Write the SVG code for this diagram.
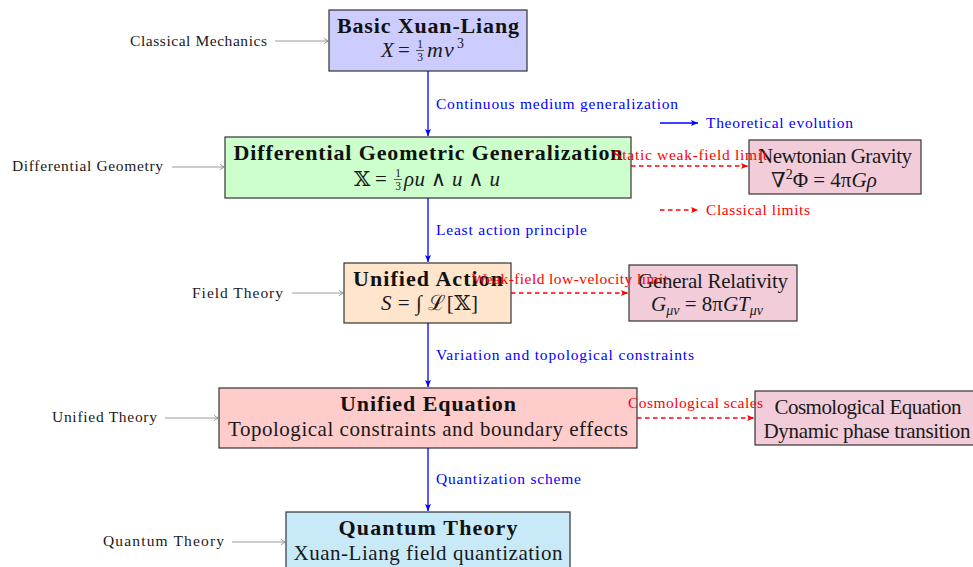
<svg xmlns="http://www.w3.org/2000/svg" width="973" height="567" viewBox="0 0 973 567">
<defs>
<style>
text{font-family:"Liberation Serif","DejaVu Serif",serif;fill:#1a1a1a}
.t{font-size:22px;font-weight:bold;text-anchor:middle;fill:#111}
.s{font-size:21px;text-anchor:middle}
.m{font-size:21px}
.i{font-style:italic}
.sm{font-size:15.5px}
.blue{fill:#0000ff}
.red{fill:#ff0000}
.box{stroke:#333;stroke-width:1.2}
.ev{stroke:#0000ff;stroke-width:1.3;fill:none}
.cl{stroke:#ff0000;stroke-width:1.3;stroke-dasharray:4.5 3.5;fill:none}
.gr{stroke:#808080;stroke-width:0.8;fill:none}
.fr{stroke:#1a1a1a;stroke-width:0.7}
</style>
<marker id="ab" markerWidth="9" markerHeight="8" refX="8" refY="4" orient="auto" markerUnits="userSpaceOnUse"><path d="M1,1 L8,4 L1,7 L2.5,4 Z" fill="#0000ff"/></marker>
<marker id="ar" markerWidth="9" markerHeight="8" refX="8" refY="4" orient="auto" markerUnits="userSpaceOnUse"><path d="M1,1 L8,4 L1,7 L2.5,4 Z" fill="#ff0000"/></marker>
<marker id="ag" markerWidth="8" markerHeight="8" refX="7" refY="4" orient="auto" markerUnits="userSpaceOnUse"><path d="M2,1.3 Q4.5,3.4 7,4 Q4.5,4.6 2,6.7" fill="none" stroke="#808080" stroke-width="0.8"/></marker>
</defs>

<g id="node-basic">
<rect class="box" x="329" y="10" width="198" height="61" fill="#ccccff"/>
<text class="t" x="428" y="33" textLength="182">Basic Xuan-Liang</text>
<text class="m i" x="381" y="57">X</text>
<text class="m" x="398" y="57">=</text>
<text x="420" y="47.5" font-size="11.5" text-anchor="middle">1</text>
<line class="fr" x1="416" y1="50.5" x2="424" y2="50.5"/>
<text x="420" y="61" font-size="11.5" text-anchor="middle">3</text>
<text class="i" x="427" y="57" font-size="22" letter-spacing="1">mv</text>
<text x="457" y="48" font-size="14">3</text>
</g>

<g id="node-diffgeo">
<rect class="box" x="225" y="137" width="406" height="61" fill="#ccffcc"/>
<text class="t" x="428" y="160" textLength="389">Differential Geometric Generalization</text>
<text class="m" x="354" y="186">𝕏</text>
<text class="m" x="375" y="186">=</text>
<text x="398" y="177" font-size="11.5" text-anchor="middle">1</text>
<line class="fr" x1="394" y1="179.5" x2="402" y2="179.5"/>
<text x="398" y="190" font-size="11.5" text-anchor="middle">3</text>
<text class="m" x="404" y="186" textLength="96"><tspan class="i">ρu</tspan> ∧ <tspan class="i">u</tspan> ∧ <tspan class="i">u</tspan></text>
</g>

<g id="node-action">
<rect class="box" x="344" y="263" width="167" height="60" fill="#ffe5cc"/>
<text class="t" x="428" y="286" textLength="150">Unified Action</text>
<text class="m" x="381" y="310" textLength="97"><tspan class="i">S</tspan> = ∫ ℒ[𝕏]</text>
</g>

<g id="node-equation">
<rect class="box" x="219" y="388" width="418" height="60" fill="#ffcccc"/>
<text class="t" x="428" y="411" textLength="176">Unified Equation</text>
<text class="s" x="428" y="436" textLength="400">Topological constraints and boundary effects</text>
</g>

<g id="node-quantum">
<rect class="box" x="286" y="512" width="284" height="60" fill="#c8e9f8"/>
<text class="t" x="428" y="535" textLength="179">Quantum Theory</text>
<text class="s" x="428" y="560" textLength="269">Xuan-Liang field quantization</text>
</g>

<g id="node-newton">
<rect class="box" x="749" y="140" width="172" height="54" fill="#f2ccd9"/>
<text class="s" x="835" y="163" textLength="154">Newtonian Gravity</text>
<text class="m" x="771" y="187">∇<tspan dy="-8" font-size="14">2</tspan><tspan dy="8">Φ = 4π</tspan><tspan class="i">Gρ</tspan></text>
</g>

<g id="node-gr">
<rect class="box" x="629" y="265" width="168" height="56" fill="#f2ccd9"/>
<text class="s" x="713" y="288" textLength="150">General Relativity</text>
<text class="m" x="651" y="311"><tspan class="i">G</tspan><tspan class="i" dy="4" font-size="14">μν</tspan><tspan dy="-4"> = 8π</tspan><tspan class="i">GT</tspan><tspan class="i" dy="4" font-size="14">μν</tspan></text>
</g>

<g id="node-cosmo">
<rect class="box" x="755" y="391" width="230" height="54" fill="#f2ccd9"/>
<text class="s" x="868" y="414" textLength="187">Cosmological Equation</text>
<text class="s" x="867" y="438" textLength="207">Dynamic phase transition</text>
</g>

<g id="connectors">
<line class="ev" x1="428" y1="71" x2="428" y2="136" marker-end="url(#ab)"/>
<line class="ev" x1="428" y1="198" x2="428" y2="262" marker-end="url(#ab)"/>
<line class="ev" x1="428" y1="323" x2="428" y2="387" marker-end="url(#ab)"/>
<line class="ev" x1="428" y1="448" x2="428" y2="511" marker-end="url(#ab)"/>
<text class="sm blue" x="436" y="109" textLength="242">Continuous medium generalization</text>
<text class="sm blue" x="436" y="235" textLength="151">Least action principle</text>
<text class="sm blue" x="436" y="360" textLength="258">Variation and topological constraints</text>
<text class="sm blue" x="436" y="484" textLength="145">Quantization scheme</text>

<line class="cl" x1="631" y1="166" x2="748" y2="166" marker-end="url(#ar)"/>
<line class="cl" x1="511" y1="293" x2="628" y2="293" marker-end="url(#ar)"/>
<line class="cl" x1="637" y1="418" x2="754" y2="418" marker-end="url(#ar)"/>
<text class="sm red" x="613" y="160" textLength="154">Static weak-field limit</text>
<text class="sm red" x="472" y="284" textLength="196">Weak-field low-velocity limit</text>
<text class="sm red" x="628" y="408" textLength="135">Cosmological scales</text>

<line class="gr" x1="275" y1="41" x2="329" y2="41" marker-end="url(#ag)"/>
<line class="gr" x1="172" y1="167" x2="225" y2="167" marker-end="url(#ag)"/>
<line class="gr" x1="292" y1="293" x2="344" y2="293" marker-end="url(#ag)"/>
<line class="gr" x1="165" y1="418" x2="219" y2="418" marker-end="url(#ag)"/>
<line class="gr" x1="232" y1="542" x2="286" y2="542" marker-end="url(#ag)"/>
<text class="sm" x="130" y="46" textLength="137">Classical Mechanics</text>
<text class="sm" x="12" y="171" textLength="151">Differential Geometry</text>
<text class="sm" x="192" y="298" textLength="91">Field Theory</text>
<text class="sm" x="52" y="422" textLength="105">Unified Theory</text>
<text class="sm" x="103" y="546" textLength="121">Quantum Theory</text>
</g>

<g id="legend">
<line class="ev" x1="660" y1="123" x2="698" y2="123" marker-end="url(#ab)"/>
<text class="sm blue" x="706" y="128" textLength="147">Theoretical evolution</text>
<line class="cl" x1="660" y1="210" x2="698" y2="210" marker-end="url(#ar)"/>
<text class="sm red" x="706" y="215" textLength="104">Classical limits</text>
</g>
</svg>
